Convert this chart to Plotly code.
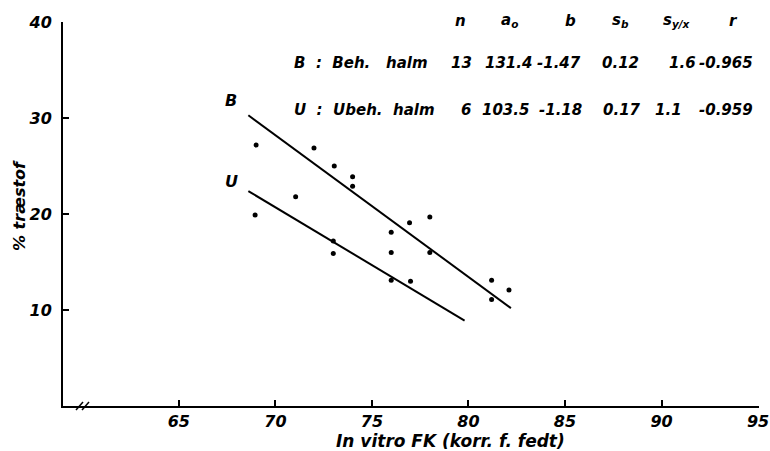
import plotly.graph_objects as go

# ---- data ----
B_x = [69.0, 72.0, 73.05, 74.0, 74.0, 76.95, 78.0, 76.0, 76.0, 78.0, 81.2, 82.1, 81.2]
B_y = [27.2, 26.9, 25.0, 23.9, 22.9, 19.1, 19.7, 18.1, 16.0, 16.0, 13.1, 12.1, 11.1]
U_x = [71.05, 68.95, 73.0, 73.0, 76.0, 77.0]
U_y = [21.8, 19.9, 17.2, 15.9, 13.1, 13.0]

B_fit_x = [68.6, 82.2]
B_fit_y = [30.3, 10.2]
U_fit_x = [68.6, 79.8]
U_fit_y = [22.4, 8.9]

x_ticks = [65, 70, 75, 80, 85, 90, 95]
y_ticks = [10, 20, 30, 40]

NB = "\u00a0"
row_labels = [f"B{NB}{NB}:{NB}{NB}Beh.{NB}{NB}{NB}halm", f"U{NB}{NB}:{NB}{NB}Ubeh.{NB}{NB}halm"]
col_headers = ["n", "a<sub>o</sub>", "b", "s<sub>b</sub>", "s<sub>y/x</sub>", "r"]
n_vals = ["13", "6"]
a0_vals = ["131.4", "103.5"]
b_vals = ["-1.47", "-1.18"]
sb_vals = ["0.12", "0.17"]
syx_vals = ["1.6", "1.1"]
r_vals = ["-0.965", "-0.959"]

# ---- layout helpers (pixel -> paper) ----
W, H = 770, 451
L, R, T, Bm = 63, 11, 22, 45
PW, PH = W - L - R, H - T - Bm


def px(xp):
    return (xp - L) / PW


def py(yp):
    return (H - Bm - yp) / PH


FONT = "DejaVu Sans"
txt = dict(family=FONT, size=15, color="black", style="italic", weight="bold")

fig = go.Figure()
line_style = dict(color="black", width=2)
fig.add_trace(go.Scatter(x=B_fit_x, y=B_fit_y, mode="lines", line=line_style, showlegend=False))
fig.add_trace(go.Scatter(x=U_fit_x, y=U_fit_y, mode="lines", line=line_style, showlegend=False))
fig.add_trace(go.Scatter(x=B_x, y=B_y, mode="markers", marker=dict(color="black", size=5), showlegend=False))
fig.add_trace(go.Scatter(x=U_x, y=U_y, mode="markers", marker=dict(color="black", size=5), showlegend=False))

annotations = []
# table header
hdr_x = [460, 509, 570, 620, 677, 733]
for h, xp in zip(col_headers, hdr_x):
    annotations.append(dict(text=h, x=px(xp), y=py(21), xref="paper", yref="paper",
                            showarrow=False, xanchor="center", yanchor="middle", font=txt))
row_y = [63, 110]
# (pixel x, anchor) per column for each row
val_pos = [
    [(461, "center"), (508, "center"), (559, "center"), (620, "center"), (682, "center"), (755, "right")],
    [(466, "center"), (505, "center"), (560, "center"), (622, "center"), (668, "center"), (755, "right")],
]
for i in range(2):
    annotations.append(dict(text=row_labels[i], x=px(292), y=py(row_y[i]), xref="paper", yref="paper",
                            showarrow=False, xanchor="left", yanchor="middle", font=txt))
    vals = [n_vals[i], a0_vals[i], b_vals[i], sb_vals[i], syx_vals[i], r_vals[i]]
    for v, (xp, anc) in zip(vals, val_pos[i]):
        annotations.append(dict(text=v, x=px(xp), y=py(row_y[i]), xref="paper", yref="paper",
                                showarrow=False, xanchor=anc, yanchor="middle", font=txt))

# line labels
annotations.append(dict(text="B", x=px(231), y=py(101), xref="paper", yref="paper",
                        showarrow=False, xanchor="center", yanchor="middle", font=dict(txt, size=16)))
annotations.append(dict(text="U", x=px(231), y=py(181.5), xref="paper", yref="paper",
                        showarrow=False, xanchor="center", yanchor="middle", font=dict(txt, size=16)))

# axis titles
annotations.append(dict(text="In vitro FK (korr. f. fedt)", x=px(450), y=py(441), xref="paper", yref="paper",
                        showarrow=False, xanchor="center", yanchor="middle",
                        font=dict(txt, size=17)))
annotations.append(dict(text="% træstof", x=px(19), y=py(205), xref="paper", yref="paper",
                        showarrow=False, xanchor="center", yanchor="middle", textangle=-90,
                        font=dict(txt, size=16)))

# axis break mark "//"
shapes = []
for cx in (80, 86):
    shapes.append(dict(type="line", xref="paper", yref="paper",
                       x0=px(cx - 4), y0=py(410), x1=px(cx + 3), y1=py(402),
                       line=dict(color="black", width=1.5)))

tickfont = dict(txt, size=16)
fig.update_layout(
    width=W, height=H,
    margin=dict(l=L, r=R, t=T, b=Bm, autoexpand=False),
    plot_bgcolor="white", paper_bgcolor="white",
    font=txt,
    annotations=annotations,
    shapes=shapes,
    xaxis=dict(range=[59, 95.05], tickvals=x_ticks, ticks="inside", ticklen=6, tickwidth=1.5,
               tickcolor="black", showline=True, linecolor="black", linewidth=2, automargin=False,
               showgrid=False, zeroline=False, tickfont=tickfont, ticklabelstandoff=0,
               ticklabeloverflow="allow"),
    yaxis=dict(range=[0, 40.02], tickvals=y_ticks, ticks="inside", ticklen=6, tickwidth=1.5,
               tickcolor="black", showline=True, linecolor="black", linewidth=2, automargin=False,
               showgrid=False, zeroline=False, tickfont=tickfont, ticklabelstandoff=6),
)

fig.write_html("out.html")
